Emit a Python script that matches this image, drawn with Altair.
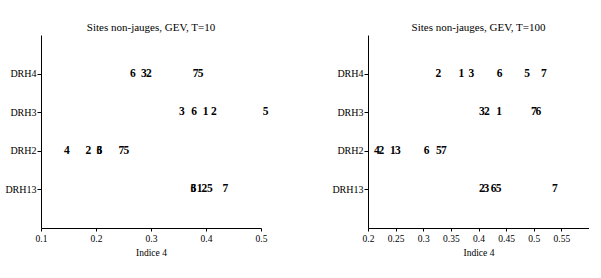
import altair as alt
import pandas as pd

FONT = "Liberation Serif"
categories = ["DRH4", "DRH3", "DRH2", "DRH13"]

# ---- Panel T=10 ----
t10_title = "Sites non-jauges, GEV, T=10"
t10_domain = [0.1, 0.5]
t10_ticks = [0.1, 0.2, 0.3, 0.4, 0.5]
t10_drh4_sites = ["6", "3", "2", "7", "5"]
t10_drh4_vals = [0.262, 0.282, 0.291, 0.376, 0.385]
t10_drh3_sites = ["3", "6", "1", "2", "5"]
t10_drh3_vals = [0.351, 0.373, 0.394, 0.409, 0.503]
t10_drh2_sites = ["4", "2", "3", "6", "7", "5"]
t10_drh2_vals = [0.142, 0.181, 0.201, 0.201, 0.241, 0.250]
t10_drh13_sites = ["6", "3", "1", "2", "5", "7"]
t10_drh13_vals = [0.372, 0.372, 0.383, 0.392, 0.402, 0.430]

# ---- Panel T=100 ----
t100_title = "Sites non-jauges, GEV, T=100"
t100_domain = [0.2, 0.6]
t100_ticks = [0.2, 0.25, 0.3, 0.35, 0.4, 0.45, 0.5, 0.55]
t100_drh4_sites = ["2", "1", "3", "6", "5", "7"]
t100_drh4_vals = [0.322, 0.364, 0.382, 0.433, 0.483, 0.513]
t100_drh3_sites = ["3", "2", "1", "7", "6"]
t100_drh3_vals = [0.401, 0.410, 0.432, 0.495, 0.503]
t100_drh2_sites = ["4", "2", "1", "3", "6", "5", "7"]
t100_drh2_vals = [0.211, 0.219, 0.240, 0.249, 0.301, 0.323, 0.332]
t100_drh13_sites = ["2", "3", "6", "5", "7"]
t100_drh13_vals = [0.401, 0.409, 0.422, 0.431, 0.533]


def make_df(groups):
    rows = []
    for cat, sites, vals in groups:
        for s, v in zip(sites, vals):
            rows.append({"cat": cat, "site": s, "x": v})
    return pd.DataFrame(rows)


df10 = make_df([
    ("DRH4", t10_drh4_sites, t10_drh4_vals),
    ("DRH3", t10_drh3_sites, t10_drh3_vals),
    ("DRH2", t10_drh2_sites, t10_drh2_vals),
    ("DRH13", t10_drh13_sites, t10_drh13_vals),
])
df100 = make_df([
    ("DRH4", t100_drh4_sites, t100_drh4_vals),
    ("DRH3", t100_drh3_sites, t100_drh3_vals),
    ("DRH2", t100_drh2_sites, t100_drh2_vals),
    ("DRH13", t100_drh13_sites, t100_drh13_vals),
])


def panel(df, title, domain, ticks, width):
    return alt.Chart(
        df,
        title=alt.Title(title, font=FONT, fontSize=11, fontWeight="normal",
                        color="black", offset=2),
    ).mark_text(
        align="left", baseline="middle", font=FONT, fontSize=11.5,
        fontWeight="bold", color="black",
    ).encode(
        x=alt.X("x:Q",
                scale=alt.Scale(domain=domain, nice=False, zero=False),
                axis=alt.Axis(values=ticks, format=".2~f", title="Indice 4",
                              grid=False, tickSize=3, labelPadding=2,
                              titlePadding=5, labelFlush=False)),
        y=alt.Y("cat:N", sort=categories,
                scale=alt.Scale(type="point", padding=1),
                axis=alt.Axis(title=None, grid=False, tickSize=4,
                              labelPadding=1)),
        text="site:N",
    ).properties(width=width, height=193)


left = panel(df10, t10_title, t10_domain, t10_ticks, 220)
right = panel(df100, t100_title, t100_domain, t100_ticks, 221)

chart = alt.hconcat(left, right, bounds="flush", spacing=107).properties(
    padding={"left": 4, "top": 22, "right": 0, "bottom": 0},
    background="white",
).configure_view(stroke=None).configure_axis(
    domainColor="black", tickColor="black", labelColor="black",
    titleColor="black", labelFont=FONT, titleFont=FONT,
    labelFontSize=9.5, titleFontSize=9.5, titleFontWeight="normal",
    domainWidth=1,
).configure_axisY(labelFontSize=10)

chart.save("out.html", embed_options={"renderer": "svg", "actions": False})
